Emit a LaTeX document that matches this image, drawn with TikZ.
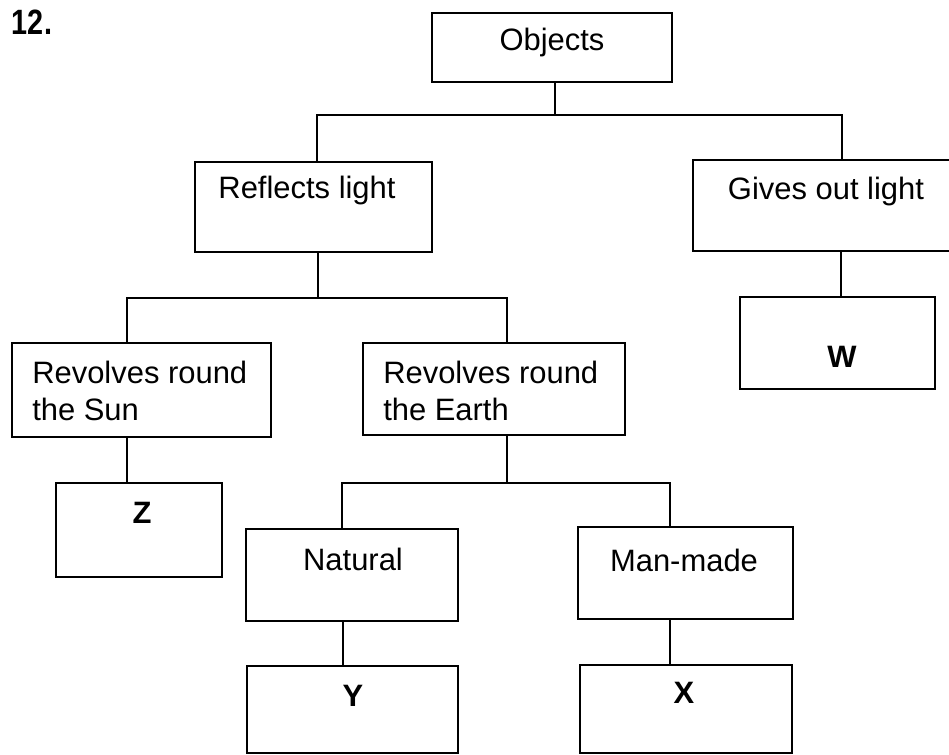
\documentclass[tikz,border=0pt]{standalone}
\usepackage{fontspec}
\setmainfont{Liberation Sans}
\begin{document}
\begin{tikzpicture}[x=0.025cm,y=-0.025cm,
  box/.style={draw=black, line width=1.3pt, inner sep=0pt, fill=white},
  lab/.style={font=\fontsize{22}{26.3}\selectfont, inner sep=0pt, text=black},
  blab/.style={font=\fontsize{22}{26.3}\selectfont\bfseries, inner sep=0pt, text=black},
  conn/.style={draw=black, line width=1.3pt}]
\useasboundingbox (0,0) rectangle (949,755);
\clip (0,0) rectangle (949,755);
\fill[white] (0,0) rectangle (949,755);

% title
\node[blab, font=\fontsize{25}{28}\selectfont\bfseries] (num) at (32,22) {\scalebox{0.82}[1]{12.}};

% boxes
\node[box, minimum width=6.0cm,   minimum height=1.725cm] (obj)   at (552,47.5) {};
\node[box, minimum width=5.925cm, minimum height=2.25cm]  (refl)  at (313.5,207) {};
\node[box, minimum width=7.425cm, minimum height=2.275cm] (gives) at (841.5,205.5) {};
\node[box, minimum width=4.875cm, minimum height=2.3cm]   (w)     at (837.5,343) {};
\node[box, minimum width=6.475cm, minimum height=2.35cm]  (sun)   at (141.5,390) {};
\node[box, minimum width=6.55cm,  minimum height=2.3cm]   (earth) at (494,389) {};
\node[box, minimum width=4.15cm,  minimum height=2.35cm]  (z)     at (139,530) {};
\node[box, minimum width=5.3cm,   minimum height=2.3cm]   (nat)   at (352,575) {};
\node[box, minimum width=5.375cm, minimum height=2.3cm]   (man)   at (685.5,573) {};
\node[box, minimum width=5.275cm, minimum height=2.175cm] (y)     at (352.5,709.5) {};
\node[box, minimum width=5.3cm,   minimum height=2.2cm]   (x)     at (686,709) {};

% labels
\node[lab] (tobj)   at (552,43)  {Objects};
\node[lab] (trefl)  at (307,191) {Reflects light};
\node[lab] (tgives) at (826,192) {Gives out light};
\node[blab] (tw)    at (842,357) {W};
\node[lab, align=left, anchor=west] (tsun)   at (32,391)  {Revolves round\\the Sun};
\node[lab, align=left, anchor=west] (tearth) at (383,391) {Revolves round\\the Earth};
\node[blab] (tz)    at (142,513) {Z};
\node[lab] (tnat)   at (353,559) {Natural};
\node[lab] (tman)   at (684,560) {Man-made};
\node[blab] (ty)    at (353,696) {Y};
\node[blab] (tx)    at (684,693) {X};

% junction coordinates
\coordinate (b1m) at (555,115);
\coordinate (b1l) at (317,115);
\coordinate (b1r) at (842,115);
\coordinate (b2m) at (318,298);
\coordinate (b2l) at (127,298);
\coordinate (b2r) at (507,298);
\coordinate (b3m) at (507,483);
\coordinate (b3l) at (342,483);
\coordinate (b3r) at (670,483);
\coordinate (vw)  at (841,0);
\coordinate (vz)  at (127,0);
\coordinate (vy)  at (343,0);
\coordinate (vx)  at (670,0);

% connectors
\draw[conn] (obj.south -| b1m) -- (b1m);
\draw[conn] (refl.north -| b1l) -- (b1l) -- (b1r) -- (gives.north -| b1r);
\draw[conn] (refl.south -| b2m) -- (b2m);
\draw[conn] (sun.north -| b2l) -- (b2l) -- (b2r) -- (earth.north -| b2r);
\draw[conn] (gives.south -| vw) -- (w.north -| vw);
\draw[conn] (sun.south -| vz) -- (z.north -| vz);
\draw[conn] (earth.south -| b3m) -- (b3m);
\draw[conn] (nat.north -| b3l) -- (b3l) -- (b3r) -- (man.north -| b3r);
\draw[conn] (nat.south -| vy) -- (y.north -| vy);
\draw[conn] (man.south -| vx) -- (x.north -| vx);
\end{tikzpicture}
\end{document}
